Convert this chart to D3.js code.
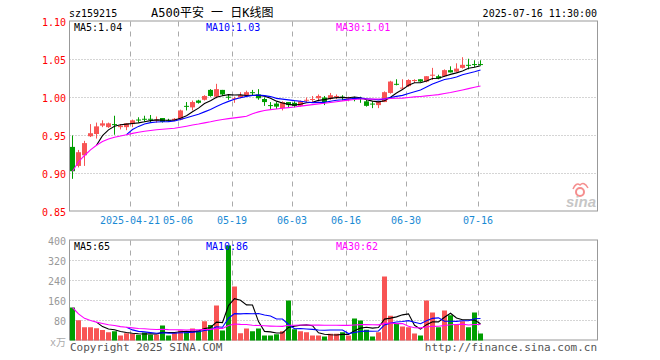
<!DOCTYPE html>
<html>
<head>
<meta charset="utf-8">
<script src="https://cdn.jsdelivr.net/npm/d3@7/dist/d3.min.js"></script>
<style>
  body { margin: 0; background: #fff; }
  text { font-family: "DejaVu Sans Mono", "Liberation Mono", monospace; font-size: 10px; }
</style>
</head>
<body>
<script>
// 交易日
const dates = [
  '04-07','04-08','04-09','04-10','04-11','04-14','04-15','04-16','04-17','04-18',
  '04-21','04-22','04-23','04-24','04-25','04-28','04-29','04-30',
  '05-06','05-07','05-08','05-09','05-12','05-13','05-14','05-15','05-16',
  '05-19','05-20','05-21','05-22','05-23','05-26','05-27','05-28','05-29','05-30',
  '06-03','06-04','06-05','06-06','06-09','06-10','06-11','06-12','06-13',
  '06-16','06-17','06-18','06-19','06-20','06-23','06-24','06-25','06-26','06-27',
  '06-30','07-01','07-02','07-03','07-04','07-07','07-08','07-09','07-10','07-11',
  '07-14','07-15','07-16'
];

const open = [
  0.935,0.910,0.924,0.949,0.952,0.963,0.961,0.965,0.961,0.961,
  0.965,0.971,0.972,0.972,0.970,0.973,0.970,0.970,
  0.971,0.989,0.987,0.996,0.997,1.010,1.001,1.010,1.001,
  0.998,1.000,1.003,1.007,1.004,0.998,0.990,0.992,0.986,0.994,
  0.993,0.989,0.996,0.997,0.999,1.000,0.998,1.001,1.001,
  0.998,1.000,0.999,0.995,0.992,0.990,0.994,1.006,1.018,1.012,
  1.015,1.022,1.024,1.021,1.029,1.028,1.028,1.036,1.034,1.039,
  1.043,1.044,1.044
];
const high = [
  0.950,0.931,0.943,0.965,0.967,0.970,0.967,0.976,0.965,0.966,
  0.971,0.974,0.976,0.977,0.975,0.973,0.972,0.973,
  0.984,0.994,0.996,0.997,1.003,1.011,1.018,1.010,1.004,
  1.001,1.007,1.009,1.010,1.011,1.000,0.994,0.994,0.995,0.994,
  0.995,0.996,1.000,1.002,1.004,1.002,1.006,1.004,1.003,
  1.001,1.001,1.001,0.997,0.995,0.995,1.008,1.022,1.024,1.024,
  1.024,1.024,1.024,1.028,1.039,1.030,1.037,1.041,1.045,1.053,
  1.051,1.049,1.049
];
const low = [
  0.893,0.908,0.910,0.948,0.946,0.961,0.960,0.951,0.958,0.957,
  0.961,0.967,0.968,0.967,0.967,0.967,0.968,0.969,
  0.970,0.983,0.983,0.992,0.996,1.001,0.999,1.002,0.997,
  0.993,0.999,1.002,1.003,0.997,0.989,0.985,0.985,0.983,0.987,
  0.987,0.988,0.994,0.993,0.995,0.990,0.997,0.998,0.996,
  0.995,0.995,0.993,0.988,0.986,0.986,0.994,1.005,1.016,1.011,
  1.014,1.019,1.020,1.020,1.023,1.024,1.027,1.033,1.033,1.038,
  1.037,1.040,1.042
];
const close = [
  0.903,0.928,0.940,0.953,0.962,0.966,0.966,0.964,0.963,0.966,
  0.970,0.970,0.971,0.971,0.971,0.968,0.969,0.972,
  0.983,0.988,0.994,0.993,1.002,1.002,1.011,1.004,1.000,
  0.999,1.003,1.007,1.006,0.999,0.994,0.989,0.988,0.994,0.990,
  0.989,0.995,0.997,0.998,1.002,0.994,1.003,1.002,1.000,
  0.999,0.999,0.998,0.989,0.991,0.994,1.007,1.021,1.017,1.013,
  1.023,1.023,1.021,1.028,1.030,1.025,1.036,1.033,1.038,1.043,
  1.042,1.043,1.043
];
// 成交量 (万)
const volume = [
  132,81,53,53,49,42,33,37,20,29,
  27,23,32,23,24,60,20,32,
  40,33,48,40,77,62,140,40,380,
  216,29,48,37,48,20,20,25,37,
  160,45,37,33,20,20,16,27,27,
  33,20,88,80,43,16,33,256,99,69,
  56,53,28,20,160,112,53,120,101,64,
  77,53,112,28
];

const priceTicks = [0.85, 0.90, 0.95, 1.00, 1.05, 1.10];
const volTicks = [0, 80, 160, 240, 320, 400];
const dateTicks = ['04-21','05-06','05-19','06-03','06-16','06-30','07-16'];
const dateTickLabels = ['2025-04-21','05-06','05-19','06-03','06-16','06-30','07-16'];
const priceMaLabels = ['MA5:1.04', 'MA10:1.03', 'MA30:1.01'];
const volMaLabels = ['MA5:65', 'MA10:86', 'MA30:62'];
const maColors = ['#000000', '#0000ff', '#ff00ff'];

const RED = '#f85454', GREEN = '#009e00', GRID = '#aaaaaa';

const svg = d3.select('body').append('svg')
  .attr('width', 660).attr('height', 360);

const left = 69.5, right = 597.5;

const x = d3.scaleBand()
  .domain(dates)
  .range([70, 70 + 6 * (dates.length - 1 / 6)])
  .paddingInner(1 / 6)
  .paddingOuter(0);
const cx = d => x(d) + x.bandwidth() / 2;

const y = d3.scaleLinear().domain([0.85, 1.10]).range([211.5, 21.5]);
const yv = d3.scaleLinear().domain([0, 400]).range([340.5, 240.5]);

// moving averages (MA30 uses what is available at the start)
function ma(arr, n, partial) {
  return arr.map((v, i) => {
    if (i < n - 1 && !partial) return null;
    const s = arr.slice(Math.max(0, i - n + 1), i + 1);
    return d3.mean(s);
  });
}

// header
svg.append('text').attr('x', 69).attr('y', 17).text('sz159215');
svg.append('text').attr('x', 151).attr('y', 17)
  .style('font-family', '"DejaVu Sans Mono", "Noto Sans CJK SC", monospace')
  .style('font-size', '12px')
  .text('A500平安 一 日K线图');
svg.append('text').attr('x', 597).attr('y', 17).attr('text-anchor', 'end')
  .text('2025-07-16 11:30:00');

function panel(yScale, ticks, tickFmt, tickColor) {
  const g = svg.append('g');
  // horizontal dotted grid
  g.selectAll('line.h').data(ticks.slice(1, -1)).join('line')
    .attr('x1', left).attr('x2', right)
    .attr('y1', d => Math.round(yScale(d)) - 0.5).attr('y2', d => Math.round(yScale(d)) - 0.5)
    .attr('stroke', GRID).attr('stroke-dasharray', '1,2');
  // vertical dashed grid
  g.selectAll('line.v').data(dateTicks).join('line')
    .attr('x1', d => x(d) + 0.5).attr('x2', d => x(d) + 0.5)
    .attr('y1', yScale.range()[1]).attr('y2', yScale.range()[0])
    .attr('stroke', GRID).attr('stroke-dasharray', '5,5');
  // box
  g.append('rect')
    .attr('x', left).attr('y', yScale.range()[1] - 0.5)
    .attr('width', right - left).attr('height', yScale.range()[0] - yScale.range()[1])
    .attr('fill', 'none').attr('stroke', '#999');
  // tick labels
  g.selectAll('text').data(ticks).join('text')
    .attr('x', 66).attr('y', d => yScale(d) + 4)
    .attr('text-anchor', 'end').attr('fill', tickColor)
    .text(tickFmt);
}

panel(y, priceTicks, d => d.toFixed(2), '#ff0000');
panel(yv, volTicks, d => d === 0 ? '' : d, '#999999');

svg.append('text').attr('x', 50).attr('y', 346).attr('fill', '#aaa')
  .style('font-family', '"DejaVu Sans Mono", "Noto Sans CJK SC", monospace')
  .text('x万');

// date labels
svg.selectAll('text.date').data(dateTicks).join('text')
  .attr('class', 'date')
  .attr('x', d => x(d)).attr('y', 224)
  .attr('text-anchor', 'middle').attr('fill', '#1a8ad4')
  .text((d, i) => dateTickLabels[i]);

// candles
const rows = dates.map((d, i) => ({ d, o: open[i], h: high[i], l: low[i], c: close[i], v: volume[i] }));
const col = r => r.c >= r.o ? RED : GREEN;

const k = svg.append('g');
k.selectAll('rect.wick').data(rows).join('rect')
  .attr('x', r => x(r.d) + 2).attr('width', 1)
  .attr('y', r => y(r.h)).attr('height', r => Math.max(1, y(r.l) - y(r.h)))
  .attr('fill', col);
k.selectAll('rect.body').data(rows).join('rect')
  .attr('x', r => x(r.d)).attr('width', x.bandwidth())
  .attr('y', r => y(Math.max(r.o, r.c)))
  .attr('height', r => Math.max(1, Math.abs(y(r.o) - y(r.c))))
  .attr('fill', col);

// volume bars
svg.append('g').selectAll('rect').data(rows).join('rect')
  .attr('x', r => x(r.d)).attr('width', x.bandwidth())
  .attr('y', r => yv(r.v)).attr('height', r => yv(0) - yv(r.v))
  .attr('fill', col);

// MA lines
function maLines(arr, yScale) {
  const sets = [ma(arr, 5, false), ma(arr, 10, false), ma(arr, 30, true)];
  sets.forEach((s, j) => {
    const line = d3.line()
      .defined(d => d != null)
      .x((d, i) => cx(dates[i]))
      .y(d => yScale(d));
    svg.append('path').datum(s)
      .attr('d', line)
      .attr('fill', 'none').attr('stroke', maColors[j]).attr('stroke-width', 1.1);
  });
}
maLines(close, y);
maLines(volume, yv);

// MA labels
const maX = [74, 206, 336];
svg.selectAll('text.pma').data(priceMaLabels).join('text')
  .attr('x', (d, i) => maX[i]).attr('y', 31)
  .attr('fill', (d, i) => maColors[i]).text(d => d);
svg.selectAll('text.vma').data(volMaLabels).join('text')
  .attr('x', (d, i) => maX[i]).attr('y', 250)
  .attr('fill', (d, i) => maColors[i]).text(d => d);

// footer
svg.append('text').attr('x', 70).attr('y', 351).attr('fill', '#555')
  .style('font-size', '11px').text('Copyright 2025 SINA.COM');
svg.append('text').attr('x', 597).attr('y', 351).attr('fill', '#555')
  .attr('text-anchor', 'end').style('font-size', '11px').text('http://finance.sina.com.cn');

// sina mark
const logo = svg.append('g').attr('opacity', 0.55);
logo.append('circle').attr('cx', 580).attr('cy', 192).attr('r', 4)
  .attr('fill', 'none').attr('stroke', '#e33').attr('stroke-width', 2);
logo.append('path').attr('d', 'M573,189 Q576,182 580,185 Q584,181 588,188')
  .attr('fill', 'none').attr('stroke', '#e33').attr('stroke-width', 1.5);
logo.append('text').attr('x', 566).attr('y', 207)
  .style('font-family', 'Arial, "Liberation Sans", sans-serif')
  .style('font-size', '15px').style('font-weight', 'bold').style('font-style', 'italic')
  .attr('fill', '#999').text('sina');
</script>
</body>
</html>
